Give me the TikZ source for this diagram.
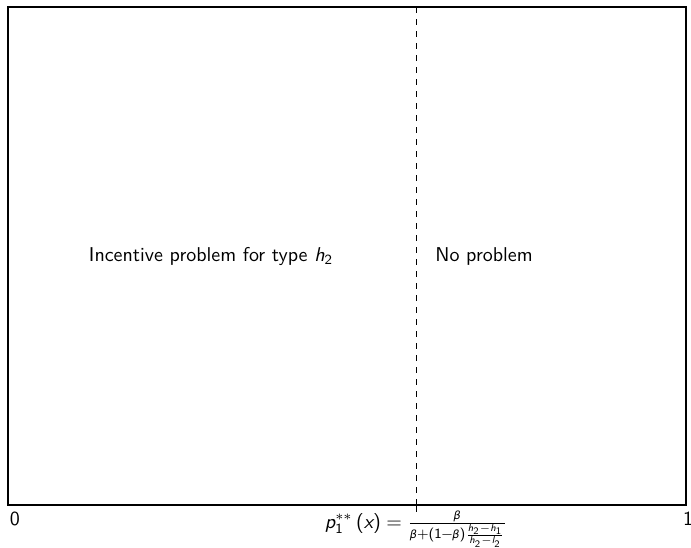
\documentclass[tikz,border=0pt]{standalone}
\usepackage{amsmath}
\usepackage{fontspec}
\newfontfamily\gkfont{DejaVu Sans}[Scale=0.8]
\newcommand{\sfv}[1]{\text{\sffamily\itshape #1}}
\newcommand{\sfn}[1]{\text{\sffamily #1}}
\newcommand{\bt}{\text{\gkfont\itshape β}}
\begin{document}
\begin{tikzpicture}[x=0.5pt,y=-0.5pt,
  frame/.style={line width=1pt},
  lbl/.style={font=\sffamily, inner sep=0pt},
  divider/.style={dashed, line width=0.5pt}]
\useasboundingbox (0,0) rectangle (691,547);
\coordinate (tl) at (8,7);
\coordinate (br) at (686,505);
\draw[frame] (tl) rectangle (br);
\coordinate (dtop) at (416,7);
\coordinate (dbot) at (416,505);
\coordinate (tick) at (416,512);
\draw[divider] (dtop) -- (dbot);
\draw[line width=0.5pt] (dbot) -- (tick);
\node[lbl] (zero) at (15,519) {0};
\node[lbl] (one) at (688,519) {1};
\node[lbl, anchor=base] (pform) at (416,528) {$\sfv{p}_{\sfn{1}}^{**}\,\sfn{(}\sfv{x}\sfn{)}=\frac{\bt}{\bt\sfn{+(1}\mkern-1mu-\mkern-1mu\bt\sfn{)}\frac{\sfv{h}_{\sfn{2}}-\sfv{h}_{\sfn{1}}}{\sfv{h}_{\sfn{2}}-\sfv{l}_{\sfn{2}}}}$};
\node[lbl] (left) at (211,256) {Incentive problem for type $\sfv{h}_{\sfn{2}}$};
\node[lbl, anchor=west] (right) at (435,256) {No problem};
\end{tikzpicture}
\end{document}
